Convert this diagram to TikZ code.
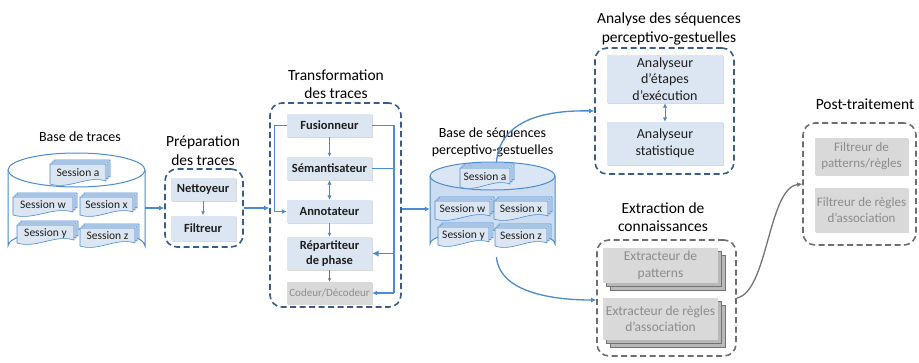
\documentclass[tikz,border=0pt]{standalone}
\usepackage{fontspec}
\setmainfont{Carlito}
\usetikzlibrary{arrows.meta,shadows,calc}
\definecolor{lblue}{RGB}{220,230,242}
\definecolor{cblue}{RGB}{74,138,210}
\definecolor{dblue}{RGB}{56,93,138}
\definecolor{dgray}{RGB}{110,110,110}
\definecolor{gfill}{RGB}{217,217,217}
\definecolor{gtext}{RGB}{140,140,140}
\definecolor{txt}{RGB}{30,30,30}
\definecolor{dbfill}{RGB}{204,221,242}
\definecolor{dbtop}{RGB}{218,230,245}
\definecolor{gline}{RGB}{115,115,115}
\newcommand\sessdoc[6]{%
  \foreach \o in {4,2,0}{%
    \filldraw[docpg] ({#2+\o},{#3-\o}) -- ++(#4,0) -- ++(0,#5-3) .. controls +({-#4/3},-6) and +({#4/3},6) .. ++(-#4,3) -- cycle;
  }
  \node[sess] (#1) at ({#2+#4/2},{#3+#5/2-1}) {#6};
}
\begin{document}
\begin{tikzpicture}[x=1pt,y=-1pt,
  bbox/.style={fill=lblue, drop shadow={shadow xshift=1.3pt,shadow yshift=-1.3pt,opacity=0.3}, align=center, text=txt, inner sep=1pt, font=\fontsize{12.5}{15}\selectfont\bfseries},
  abox/.style={fill=lblue, drop shadow={shadow xshift=1.3pt,shadow yshift=-1.3pt,opacity=0.3}, align=center, text=txt, inner sep=1pt, font=\fontsize{14}{16.5}\selectfont},
  gbox/.style={fill=gfill, drop shadow={shadow xshift=1.3pt,shadow yshift=-1.3pt,opacity=0.3}, align=center, text=gtext, inner sep=1pt, font=\fontsize{13}{16}\selectfont},
  sbox/.style={fill=gfill, double copy shadow={shadow xshift=3.5pt,shadow yshift=-3.5pt,fill=gray!55,draw=gline,line width=0.5pt}, align=center, text=gtext, inner sep=1pt, font=\fontsize{13.5}{16.5}\selectfont},
  grp/.style={draw=dblue, dash pattern=on 6pt off 3.5pt, line width=1.6pt, rounded corners=12pt, inner sep=0pt},
  ggrp/.style={grp, draw=dgray},
  title/.style={align=center, text=black, font=\fontsize{15.5}{18.5}\selectfont},
  dbl/.style={align=center, text=black, font=\fontsize{14}{17}\selectfont},
  conn/.style={draw=cblue, line width=1.3pt},
  arr/.style={conn, -{Latex[length=5pt,width=5pt]}},
  darr/.style={conn, {Latex[length=4.5pt,width=4.5pt]}-{Latex[length=4.5pt,width=4.5pt]}},
  garr/.style={draw=gline, line width=1.3pt, -{Latex[length=5pt,width=5pt]}},
  docpg/.style={fill=lblue, draw=cblue, line width=0.6pt},
  sess/.style={inner sep=0pt, text=txt, font=\fontsize{11.5}{13}\selectfont},
  db/.style={inner sep=0pt}
]
\useasboundingbox (0,0) rectangle (919,362);

% ---------- titles
\node[dbl] (t1) at (80,137) {Base de traces};
\node[title] (t2) at (203,150.5) {Préparation\\des traces};
\node[title] (t3) at (336,84) {Transformation\\des traces};
\node[dbl] (t4) at (492.5,142.5) {Base de séquences\\perceptivo-gestuelles};
\node[title] (t5) at (669,29) {Analyse des séquences\\perceptivo-gestuelles};
\node[title] (t6) at (663,217) {Extraction de\\connaissances};
\node[title] (t7) at (865,104) {Post-traitement};

% ---------- cylinder 1
\node[db, minimum width=137pt, minimum height=110pt] (db1) at (76.5,208) {};
\draw[cblue, line width=1pt, fill=white] (8,170) -- (8,246) arc[start angle=180, end angle=360, x radius=68.5, y radius=17] -- (145,170);
\draw[cblue, line width=1pt, fill=white] (76.5,170) ellipse[x radius=68.5, y radius=17];
\sessdoc{s1a}{50}{164}{56}{20}{Session a}
\sessdoc{s1w}{13}{197}{60}{18}{Session w}
\sessdoc{s1x}{80}{197}{53}{18}{Session x}
\sessdoc{s1y}{17}{225}{57}{18}{Session y}
\sessdoc{s1z}{80}{228}{55}{18}{Session z}

% ---------- cylinder 2
\node[db, minimum width=125pt, minimum height=96pt] (db2) at (492.5,209) {};
\draw[cblue, line width=1pt, fill=dbfill] (430,176) -- (430,244) arc[start angle=180, end angle=360, x radius=62.5, y radius=14] -- (555,176);
\draw[cblue, line width=1pt, fill=dbtop] (492.5,176) ellipse[x radius=62.5, y radius=14];
\sessdoc{s2a}{460}{168}{50}{19}{Session a}
\sessdoc{s2w}{435}{201}{55}{18}{Session w}
\sessdoc{s2x}{494}{201}{54}{18}{Session x}
\sessdoc{s2y}{438}{227}{51}{18}{Session y}
\sessdoc{s2z}{495}{228}{52}{18}{Session z}

% ---------- groups
\node[grp, minimum width=78pt, minimum height=78pt] (prep) at (204,208) {};
\node[grp, minimum width=131pt, minimum height=204pt] (trans) at (335.5,205) {};
\node[grp, minimum width=139pt, minimum height=126pt] (ana) at (664.5,111) {};
\node[ggrp, minimum width=139pt, minimum height=116pt] (extr) at (666.5,298) {};
\node[ggrp, minimum width=113pt, minimum height=122pt] (post) at (859.5,184) {};

% ---------- preparation
\node[bbox, minimum width=65pt, minimum height=23pt] (net) at (203,189) {Nettoyeur};
\node[bbox, minimum width=65pt, minimum height=25pt] (fil) at (203,228) {Filtreur};
\draw[arr, line width=1pt, -{Latex[length=4pt,width=4pt]}] (net) -- (fil);

% ---------- transformation
\node[bbox, minimum width=85pt, minimum height=23pt] (fus) at (329.5,125.5) {Fusionneur};
\node[bbox, minimum width=85pt, minimum height=23pt] (sem) at (329.5,168.5) {Sémantisateur};
\node[bbox, minimum width=85pt, minimum height=23pt] (ann) at (329.5,211.5) {Annotateur};
\node[bbox, minimum width=85pt, minimum height=33pt] (rep) at (329.5,253.5) {Répartiteur\\de phase};
\node[gbox, minimum width=85pt, minimum height=22pt, font=\fontsize{11}{13}\selectfont] (cod) at (329.5,293) {Codeur/Décodeur};
\draw[arr, line width=1pt, -{Latex[length=4pt,width=4pt]}] (fus) -- (sem);
\draw[darr, line width=1pt] (sem) -- (ann);
\draw[arr, line width=1pt, -{Latex[length=4pt,width=4pt]}] (ann) -- (rep);
\draw[draw=gline, line width=0.9pt, -{Latex[length=3.5pt,width=3.5pt]}] (rep) -- (cod);
\draw[arr] (fus.west) -- ++(-12,0) |- (ann.west);
\coordinate (rl) at (394,0);
\draw[conn] (fus.east) -- (fus.east -| rl) -- (cod.east -| rl);
\draw[conn] (sem.east) -- (sem.east -| rl);
\draw[arr, -{Latex[length=6.5pt,width=6.5pt]}] (rep.east -| rl) -- (rep.east);
\draw[arr] (cod.east -| rl) -- (cod.east);

% ---------- analyse
\node[abox, minimum width=116pt, minimum height=48pt] (an1) at (665,79) {Analyseur\\d’étapes\\d’exécution};
\node[abox, minimum width=116pt, minimum height=43pt] (an2) at (665,143.5) {Analyseur\\statistique};
\draw[darr, line width=0.9pt] (an1) -- (an2);

% ---------- extraction
\node[sbox, minimum width=115pt, minimum height=35pt] (ex1) at (660.5,265.5) {Extracteur de\\patterns};
\node[sbox, minimum width=115pt, minimum height=42pt] (ex2) at (660.5,319) {Extracteur de règles\\d’association};

% ---------- post
\node[gbox, minimum width=93pt, minimum height=37pt] (po1) at (861.5,156.5) {Filtreur de\\patterns/règles};
\node[gbox, minimum width=93pt, minimum height=44pt] (po2) at (861.5,210) {Filtreur de règles\\d’association};

% ---------- connectors
\draw[arr] (db1.east) -- (db1.east -| prep.west);
\draw[arr] (prep.east) -- (prep.east -| trans.west);
\draw[arr] (db2.west -| trans.east) -- (db2.west);
\draw[arr] ($(db2.north)+(4,1)$) .. controls (500,120) and (545,110) .. (ana.west);
\draw[arr] ($(db2.south)+(4,0)$) .. controls (500,295) and (560,300) .. ($(extr.west)+(0,2)$);
\draw[garr] (extr.east) .. controls (768,292) and (768,188) .. (post.west);
\end{tikzpicture}
\end{document}
